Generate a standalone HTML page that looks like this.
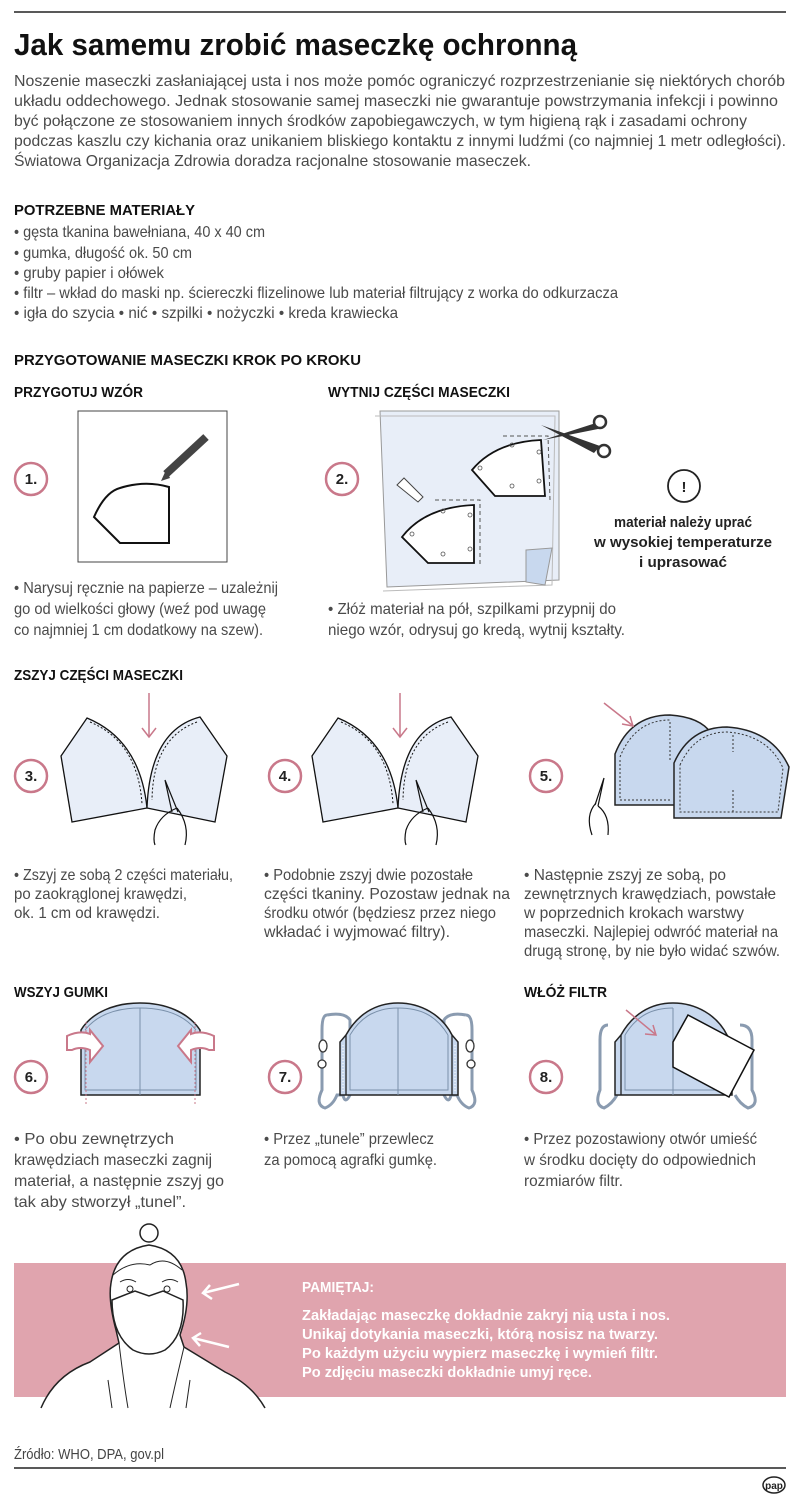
<!DOCTYPE html>
<html><head><meta charset="utf-8"><style>html,body{margin:0;padding:0;background:#fff}svg{display:block}
text{font-family:"Liberation Sans",sans-serif}</style></head><body>
<svg width="800" height="1498" viewBox="0 0 800 1498" xmlns="http://www.w3.org/2000/svg">
<g fill="#4a4a4a" font-size="16">
<line x1="14" y1="12" x2="786" y2="12" stroke="#222" stroke-width="1.5"/>
<text x="14" y="55" font-size="31" font-weight="bold" fill="#111" textLength="563" lengthAdjust="spacingAndGlyphs">Jak samemu zrobić maseczkę ochronną</text>
<text x="14" y="86" textLength="771" lengthAdjust="spacingAndGlyphs">Noszenie maseczki zasłaniającej usta i nos może pomóc ograniczyć rozprzestrzenianie się niektórych chorób</text>
<text x="14" y="106" textLength="764" lengthAdjust="spacingAndGlyphs">układu oddechowego. Jednak stosowanie samej maseczki nie gwarantuje powstrzymania infekcji i powinno</text>
<text x="14" y="126" textLength="733" lengthAdjust="spacingAndGlyphs">być połączone ze stosowaniem innych środków zapobiegawczych, w tym higieną rąk i zasadami ochrony</text>
<text x="14" y="146" textLength="772" lengthAdjust="spacingAndGlyphs">podczas kaszlu czy kichania oraz unikaniem bliskiego kontaktu z innymi ludźmi (co najmniej 1 metr odległości).</text>
<text x="14" y="166" textLength="517" lengthAdjust="spacingAndGlyphs">Światowa Organizacja Zdrowia doradza racjonalne stosowanie maseczek.</text>

<g fill="#111" font-weight="bold" font-size="15">
<text x="14" y="215" textLength="181" lengthAdjust="spacingAndGlyphs">POTRZEBNE MATERIAŁY</text>
<text x="14" y="365" textLength="347" lengthAdjust="spacingAndGlyphs">PRZYGOTOWANIE MASECZKI KROK PO KROKU</text>
<text x="14" y="397" textLength="129" lengthAdjust="spacingAndGlyphs">PRZYGOTUJ WZÓR</text>
<text x="328" y="397" textLength="182" lengthAdjust="spacingAndGlyphs">WYTNIJ CZĘŚCI MASECZKI</text>
<text x="14" y="680" textLength="169" lengthAdjust="spacingAndGlyphs">ZSZYJ CZĘŚCI MASECZKI</text>
<text x="14" y="997" textLength="94" lengthAdjust="spacingAndGlyphs">WSZYJ GUMKI</text>
<text x="524" y="997" textLength="83" lengthAdjust="spacingAndGlyphs">WŁÓŻ FILTR</text>
</g>

<g font-size="16">
<text x="14" y="237" textLength="251" lengthAdjust="spacingAndGlyphs">• gęsta tkanina bawełniana, 40 x 40 cm</text>
<text x="14" y="258" textLength="178" lengthAdjust="spacingAndGlyphs">• gumka, długość ok. 50 cm</text>
<text x="14" y="278" textLength="150" lengthAdjust="spacingAndGlyphs">• gruby papier i ołówek</text>
<text x="14" y="298" textLength="604" lengthAdjust="spacingAndGlyphs">• filtr – wkład do maski np. ściereczki flizelinowe lub materiał filtrujący z worka do odkurzacza</text>
<text x="14" y="318" textLength="384" lengthAdjust="spacingAndGlyphs">• igła do szycia  • nić  • szpilki  • nożyczki  • kreda krawiecka</text>

<text x="14" y="593" textLength="264" lengthAdjust="spacingAndGlyphs">• Narysuj ręcznie na papierze  – uzależnij</text>
<text x="14" y="614" textLength="252" lengthAdjust="spacingAndGlyphs">go od wielkości głowy (weź pod uwagę</text>
<text x="14" y="635" textLength="249" lengthAdjust="spacingAndGlyphs">co najmniej 1 cm dodatkowy na szew).</text>
<text x="328" y="614" textLength="288" lengthAdjust="spacingAndGlyphs">• Złóż materiał na pół, szpilkami przypnij do</text>
<text x="328" y="635" textLength="297" lengthAdjust="spacingAndGlyphs">niego wzór, odrysuj go kredą, wytnij kształty.</text>

<text x="14" y="880" textLength="219" lengthAdjust="spacingAndGlyphs">• Zszyj ze sobą 2 części materiału,</text>
<text x="14" y="899" textLength="173" lengthAdjust="spacingAndGlyphs">po zaokrąglonej krawędzi,</text>
<text x="14" y="918" textLength="146" lengthAdjust="spacingAndGlyphs">ok. 1 cm od krawędzi.</text>
<text x="264" y="880" textLength="209" lengthAdjust="spacingAndGlyphs">• Podobnie zszyj dwie pozostałe</text>
<text x="264" y="899" textLength="246" lengthAdjust="spacingAndGlyphs">części tkaniny. Pozostaw jednak na</text>
<text x="264" y="918" textLength="232" lengthAdjust="spacingAndGlyphs">środku otwór (będziesz przez niego</text>
<text x="264" y="937" textLength="186" lengthAdjust="spacingAndGlyphs">wkładać i wyjmować filtry).</text>
<text x="524" y="880" textLength="202" lengthAdjust="spacingAndGlyphs">• Następnie zszyj ze sobą, po</text>
<text x="524" y="899" textLength="252" lengthAdjust="spacingAndGlyphs">zewnętrznych krawędziach, powstałe</text>
<text x="524" y="918" textLength="220" lengthAdjust="spacingAndGlyphs">w poprzednich krokach warstwy</text>
<text x="524" y="937" textLength="254" lengthAdjust="spacingAndGlyphs">maseczki. Najlepiej odwróć materiał na</text>
<text x="524" y="956" textLength="256" lengthAdjust="spacingAndGlyphs">drugą stronę, by nie było widać szwów.</text>

<text x="14" y="1144" textLength="160" lengthAdjust="spacingAndGlyphs">• Po obu zewnętrzych</text>
<text x="14" y="1165" textLength="198" lengthAdjust="spacingAndGlyphs">krawędziach maseczki zagnij</text>
<text x="14" y="1186" textLength="210" lengthAdjust="spacingAndGlyphs">materiał, a następnie zszyj go</text>
<text x="14" y="1207" textLength="172" lengthAdjust="spacingAndGlyphs">tak aby stworzył „tunel”.</text>
<text x="264" y="1144" textLength="170" lengthAdjust="spacingAndGlyphs">• Przez „tunele” przewlecz</text>
<text x="264" y="1165" textLength="173" lengthAdjust="spacingAndGlyphs">za pomocą agrafki gumkę.</text>
<text x="524" y="1144" textLength="233" lengthAdjust="spacingAndGlyphs">• Przez pozostawiony otwór umieść</text>
<text x="524" y="1165" textLength="232" lengthAdjust="spacingAndGlyphs">w środku docięty do odpowiednich</text>
<text x="524" y="1186" textLength="99" lengthAdjust="spacingAndGlyphs">rozmiarów filtr.</text>
</g>
</g>

<g fill="#fff" stroke="#c9788a" stroke-width="2.5">
<circle cx="31" cy="479" r="16"/><circle cx="342" cy="479" r="16"/>
<circle cx="31" cy="776" r="16"/><circle cx="285" cy="776" r="16"/><circle cx="546" cy="776" r="16"/>
<circle cx="31" cy="1077" r="16"/><circle cx="285" cy="1077" r="16"/><circle cx="546" cy="1077" r="16"/>
</g>
<g font-size="15" font-weight="bold" fill="#222" text-anchor="middle">
<text x="31" y="484">1.</text><text x="342" y="484">2.</text>
<text x="31" y="781">3.</text><text x="285" y="781">4.</text><text x="546" y="781">5.</text>
<text x="31" y="1082">6.</text><text x="285" y="1082">7.</text><text x="546" y="1082">8.</text>
</g>

<rect x="78" y="411" width="149" height="151" fill="#fff" stroke="#444" stroke-width="1"/>
<path d="M94,517 Q105,492 120,488 Q145,480 169,487 L169,543 L120,543 Z" fill="#fff" stroke="#111" stroke-width="2"/>
<line x1="206" y1="437" x2="166" y2="474" stroke="#444" stroke-width="8"/>
<path d="M166,470 L170,478 L161,481 Z" fill="#444"/>

<path d="M380,411 L559,411 L559,580 L387,587 Z" fill="#e8eef8" stroke="#999" stroke-width="1"/>
<path d="M375,416 L555,416 L552,585 L383,591" fill="none" stroke="#bbb"/>
<path d="M526,550 L552,548 L545,585 L526,582 Z" fill="#c8d8ee" stroke="#999"/>
<path d="M472,470 Q495,442 541,440 L545,496 L495,496 Z" fill="#fff" stroke="#111" stroke-width="1.8"/>
<path d="M503,436 L548,436 L550,500" fill="none" stroke="#555" stroke-dasharray="4,3"/>
<path d="M402,537 Q425,507 474,505 L474,563 L428,563 Z" fill="#fff" stroke="#111" stroke-width="1.8"/>
<path d="M435,500 L480,500 L480,567" fill="none" stroke="#555" stroke-dasharray="4,3"/>
<g fill="none" stroke="#555" stroke-width="0.8"><circle cx="512" cy="445" r="2"/><circle cx="539" cy="452" r="2"/><circle cx="512" cy="486" r="2"/><circle cx="539" cy="481" r="2"/><circle cx="480" cy="468" r="2"/><circle cx="443" cy="511" r="2"/><circle cx="470" cy="515" r="2"/><circle cx="443" cy="554" r="2"/><circle cx="470" cy="549" r="2"/><circle cx="412" cy="534" r="2"/></g>
<path d="M397,485 L404,478 L423,497 L418,502 Z" fill="#fff" stroke="#444"/>
<path d="M541,425 L600,446 L594,453 Z M543,440 L599,422 L603,428 Z" fill="#333"/>
<circle cx="600" cy="422" r="6" fill="#fff" stroke="#333" stroke-width="2.5"/>
<circle cx="604" cy="451" r="6" fill="#fff" stroke="#333" stroke-width="2.5"/>
<circle cx="684" cy="486" r="16" fill="#fff" stroke="#222" stroke-width="1.8"/>
<text x="684" y="492" text-anchor="middle" font-size="15" font-weight="bold" fill="#222">!</text>
<g font-size="15" font-weight="bold" fill="#222" text-anchor="middle">
<text x="683" y="527" textLength="138" lengthAdjust="spacingAndGlyphs">materiał należy uprać</text>
<text x="683" y="547" textLength="178" lengthAdjust="spacingAndGlyphs">w wysokiej temperaturze</text>
<text x="683" y="567" textLength="88" lengthAdjust="spacingAndGlyphs">i uprasować</text>
</g>

<g id="s3">
<path d="M61,756 L87,718 Q140,740 147,808 L72,822 Z" fill="#e8eef8" stroke="#111" stroke-width="1.3"/>
<path d="M147,808 Q150,730 200,717 L227,756 L215,822 Z" fill="#e8eef8" stroke="#111" stroke-width="1.3"/>
<path d="M90,722 Q138,742 142,804" fill="none" stroke="#111" stroke-dasharray="2,2"/>
<path d="M197,722 Q153,738 152,800" fill="none" stroke="#111" stroke-dasharray="2,2"/>
<line x1="149" y1="693" x2="149" y2="737" stroke="#c9788a" stroke-width="1.5"/>
<path d="M142,728 L149,737 L156,728" fill="none" stroke="#c9788a" stroke-width="1.5"/>
<path d="M165,780 L178,812 M165,780 L172,812" stroke="#111" stroke-width="1.2"/>
<path d="M177,808 Q160,815 155,830 Q153,840 155,845 M177,808 Q190,825 185,845" fill="none" stroke="#111" stroke-width="1.2"/>
</g>
<use href="#s3" x="251"/>

<path d="M615,754 Q630,715 670,715 Q700,717 711,733 L675,805 L615,805 Z" fill="#c8d8ee" stroke="#222" stroke-width="1.5"/>
<path d="M674,763 Q690,727 727,727 Q772,730 789,767 L781,818 L674,818 Z" fill="#c8d8ee" stroke="#222" stroke-width="1.5"/>
<path d="M620,757 Q635,720 670,720 M620,760 L620,800 L672,800 M680,765 Q695,732 727,732 Q768,735 783,768 L778,812 L680,812 L680,765" fill="none" stroke="#333" stroke-dasharray="2,2"/>
<path d="M670,722 L670,760 M733,735 L733,752 M733,790 L733,812" stroke="#333" stroke-dasharray="2,2"/>
<line x1="604" y1="703" x2="632" y2="725" stroke="#c9788a" stroke-width="1.5"/>
<path d="M622,724 L633,726 L630,716" fill="none" stroke="#c9788a" stroke-width="1.5"/>
<path d="M604,778 L595,805 M604,778 L598,806" stroke="#111" stroke-width="1.2"/>
<path d="M596,803 Q585,815 592,835 M598,806 Q610,815 608,835" fill="none" stroke="#111" stroke-width="1.2"/>

<path d="M81,1095 V1030 C92,1012 115,1003 140,1003 C165,1003 188,1012 200,1030 V1095 Z" fill="#c8d8ee" stroke="#222" stroke-width="1.5"/>
<path d="M85,1030 C97,1015 115,1008 140,1008 C165,1008 184,1015 196,1030 M85,1035 V1090 H196 V1035" fill="none" stroke="#7a90aa"/>
<line x1="140" y1="1008" x2="140" y2="1095" stroke="#7a90aa"/>
<line x1="86" y1="1022" x2="86" y2="1105" stroke="#c9788a" stroke-dasharray="2,2"/>
<line x1="195" y1="1022" x2="195" y2="1105" stroke="#c9788a" stroke-dasharray="2,2"/>
<path d="M67,1050 L67,1036 Q80,1030 90,1034 L90,1030 L103,1046 L90,1062 L90,1050 Q80,1046 72,1050 Z" fill="#fff" stroke="#c9788a" stroke-width="2"/>
<path d="M214,1050 L214,1036 Q201,1030 191,1034 L191,1030 L178,1046 L191,1062 L191,1050 Q201,1046 209,1050 Z" fill="#fff" stroke="#c9788a" stroke-width="2"/>

<path d="M327,1015 Q322,1015 322,1030 V1090 Q315,1105 325,1108 Q333,1105 337,1095 L343,1095 Q345,1105 350,1095 V1020 Q345,1012 327,1015" fill="none" stroke="#8a9bb0" stroke-width="3"/>
<path d="M466,1015 Q472,1015 472,1030 V1090 Q479,1105 469,1108 Q461,1105 457,1095 L451,1095 Q449,1105 444,1095 V1020 Q449,1012 466,1015" fill="none" stroke="#8a9bb0" stroke-width="3"/>
<path d="M340,1095 V1042 L346,1035 C357,1015 375,1003 398,1003 C421,1003 442,1015 452,1035 L458,1042 V1095 Z" fill="#c8d8ee" stroke="#222" stroke-width="1.5"/>
<path d="M346,1035 V1095 M452,1035 V1095" stroke="#222" stroke-width="1.3"/>
<path d="M343,1045 V1092 M455,1045 V1092" stroke="#fff" stroke-dasharray="1,2"/>
<path d="M350,1035 C362,1015 378,1008 398,1008 C420,1008 436,1015 448,1035 M350,1035 V1090 H448 V1035" fill="none" stroke="#7a90aa"/>
<line x1="398" y1="1008" x2="398" y2="1095" stroke="#7a90aa"/>
<g fill="#fff" stroke="#333" stroke-width="1.3"><ellipse cx="323" cy="1046" rx="4" ry="6"/><circle cx="322" cy="1064" r="4"/><ellipse cx="470" cy="1046" rx="4" ry="6"/><circle cx="471" cy="1064" r="4"/></g>

<path d="M608,1025 Q600,1025 600,1040 V1090 Q594,1105 604,1108 Q612,1104 617,1095 M740,1025 Q752,1025 752,1040 V1090 Q760,1105 748,1108 Q740,1104 735,1095" fill="none" stroke="#8a9bb0" stroke-width="3"/>
<path d="M615,1095 V1042 L621,1035 C632,1015 650,1003 673,1003 C696,1003 717,1015 727,1035 L732,1042 V1095 Z" fill="#c8d8ee" stroke="#222" stroke-width="1.5"/>
<path d="M621,1035 V1095" stroke="#222" stroke-width="1.3"/>
<path d="M625,1035 C637,1015 653,1008 673,1008 M625,1035 V1090 H725" fill="none" stroke="#7a90aa"/>
<line x1="673" y1="1008" x2="673" y2="1095" stroke="#7a90aa"/>
<path d="M688,1015 L754,1050 L729,1097 L673,1067 L673,1042 Z" fill="#fff" stroke="#111" stroke-width="1.5"/>
<line x1="626" y1="1010" x2="655" y2="1034" stroke="#c9788a" stroke-width="1.5"/>
<path d="M645,1034 L656,1035 L653,1025" fill="none" stroke="#c9788a" stroke-width="1.5"/>

<rect x="14" y="1263" width="772" height="134" fill="#e0a4ae"/>
<g fill="#fff" font-weight="bold" font-size="15">
<text x="302" y="1292" textLength="72" lengthAdjust="spacingAndGlyphs">PAMIĘTAJ:</text>
<text x="302" y="1320" textLength="368" lengthAdjust="spacingAndGlyphs">Zakładając maseczkę dokładnie zakryj nią usta i nos.</text>
<text x="302" y="1339" textLength="356" lengthAdjust="spacingAndGlyphs">Unikaj dotykania maseczki, którą nosisz na twarzy.</text>
<text x="302" y="1358" textLength="356" lengthAdjust="spacingAndGlyphs">Po każdym użyciu wypierz maseczkę i wymień filtr.</text>
<text x="302" y="1377" textLength="290" lengthAdjust="spacingAndGlyphs">Po zdjęciu maseczki dokładnie umyj ręce.</text>
</g>
<g fill="#fff" stroke="#222" stroke-width="1.5">
<circle cx="149" cy="1233" r="9"/>
<path d="M41,1408 Q55,1375 90,1362 L119,1343 L116,1330 Q108,1300 111,1283 Q116,1250 149,1245 Q182,1250 186,1283 Q190,1305 180,1335 L184,1347 L225,1372 Q252,1385 265,1408"/>
<path d="M112,1300 L135,1291 L149,1296 L163,1291 L183,1300 Q185,1335 165,1350 Q149,1358 133,1350 Q112,1335 112,1300 Z"/>
</g>
<g fill="none" stroke="#222" stroke-width="1">
<path d="M120,1282 Q128,1277 136,1282 M162,1282 Q170,1277 178,1282"/>
<circle cx="130" cy="1289" r="3"/><circle cx="167" cy="1289" r="3"/>
<path d="M113,1275 Q130,1260 150,1265 Q165,1255 182,1270"/>
<path d="M108,1380 L112,1408 M190,1380 L186,1408 M119,1343 Q124,1385 128,1408 M184,1347 Q175,1385 170,1408"/>
</g>
<g stroke="#fff" stroke-width="2.5" fill="none">
<path d="M239,1284 L203,1293 M210,1285 L203,1293 L212,1299"/>
<path d="M229,1347 L193,1338 M201,1333 L193,1338 L200,1346"/>
</g>

<text x="14" y="1459" font-size="15" fill="#444" textLength="150" lengthAdjust="spacingAndGlyphs">Źródło: WHO, DPA, gov.pl</text>
<line x1="14" y1="1468" x2="786" y2="1468" stroke="#222" stroke-width="1.5"/>
<ellipse cx="774" cy="1485" rx="11" ry="8" fill="#fff" stroke="#222" stroke-width="1.5"/>
<text x="774" y="1489" text-anchor="middle" font-size="10" font-weight="bold" fill="#222">pap</text>
</svg>
</body></html>
